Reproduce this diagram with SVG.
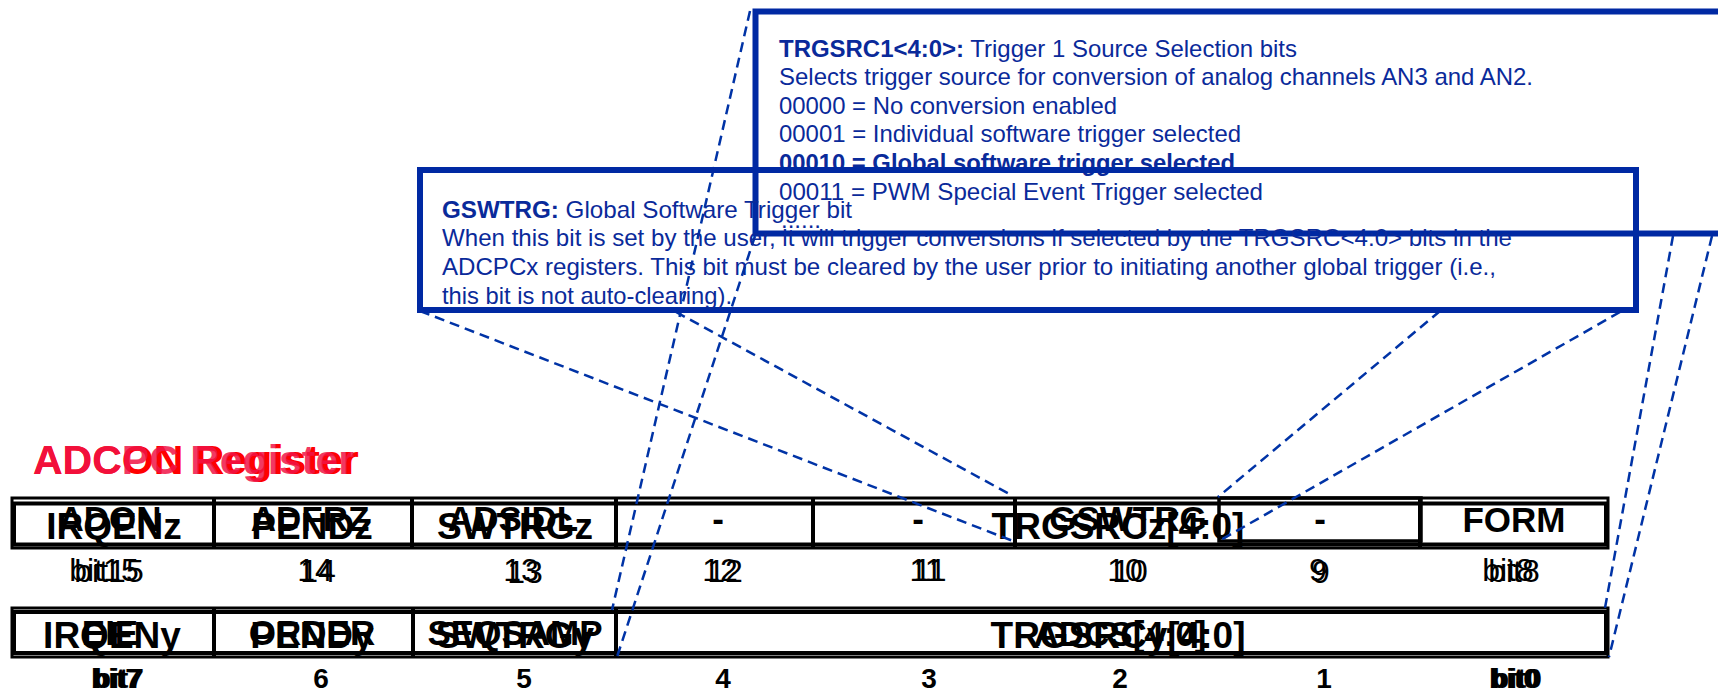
<svg xmlns="http://www.w3.org/2000/svg" width="1718" height="695" viewBox="0 0 1718 695">
<style>
.box{fill:none;stroke:#0029A3;stroke-width:6}
.dash{fill:none;stroke:#0033A6;stroke-width:2.5;stroke-dasharray:10 6}
.desc{font-family:"Liberation Sans",Arial,sans-serif;font-size:24px;fill:#0A2A9A}
.b{font-weight:bold}
.cellA{font-family:"Liberation Sans",Arial,sans-serif;font-size:35px;font-weight:bold;fill:#000;text-anchor:middle}
.cellB{font-family:"Liberation Sans",Arial,sans-serif;font-size:37px;font-weight:bold;fill:#000;text-anchor:middle}
.lab1{font-family:"Liberation Sans",Arial,sans-serif;font-size:32px;fill:#000;text-anchor:middle}
.lab2{font-family:"Liberation Sans",Arial,sans-serif;font-size:28px;font-weight:bold;fill:#000;text-anchor:middle}
.grid{fill:none;stroke:#000}
.title{font-family:"Liberation Sans",Arial,sans-serif;font-size:41px;font-weight:bold}
</style>
<rect width="1718" height="695" fill="#fff"/>

<g id="title">
<text class="title" x="33" y="474" fill="#FF0000">ADCON Register</text>
<text class="title" x="33" y="474" fill="#F01446" fill-opacity="0.85">ADCPC Register</text>
</g>

<g id="register-row1">
<rect class="grid" x="12" y="498" width="1596" height="50" stroke-width="3"/>
<rect class="grid" x="14" y="503.5" width="1592" height="41" stroke-width="4"/>
<g class="grid" stroke-width="4">
<line x1="214" y1="498" x2="214" y2="548"/>
<line x1="412" y1="498" x2="412" y2="548"/>
<line x1="616" y1="498" x2="616" y2="548"/>
<line x1="813" y1="498" x2="813" y2="548"/>
<line x1="1015" y1="498" x2="1015" y2="548"/>
<line x1="1420" y1="498" x2="1420" y2="548"/>
</g>
<rect class="grid" x="1219" y="498" width="202" height="43" stroke-width="3.5"/>
<text class="cellA" x="110" y="531">ADON</text>
<text class="cellA" x="310" y="531">ADFRZ</text>
<text class="cellA" x="513" y="531">ADSIDL</text>
<text class="cellA" x="718" y="531">-</text>
<text class="cellA" x="918" y="531">-</text>
<text class="cellA" x="1128" y="531">GSWTRG</text>
<text class="cellA" x="1320" y="531">-</text>
<text class="cellA" x="1514" y="532">FORM</text>
<text class="cellB" x="114" y="539">IRQENz</text>
<text class="cellB" x="312" y="539">PENDz</text>
<text class="cellB" x="515" y="539">SWTRGz</text>
<text class="cellB" x="1118" y="539">TRGSRCz[4:0]</text>
</g>

<g id="bits-row1">
<text class="lab1" x="104" y="581">bit15</text>
<text class="lab1" x="109" y="582">bit15</text>
<text class="lab1" x="315" y="581">14</text>
<text class="lab1" x="318" y="582">14</text>
<text class="lab1" x="521" y="581">13</text>
<text class="lab1" x="525" y="583">13</text>
<text class="lab1" x="720" y="581">12</text>
<text class="lab1" x="725" y="582">12</text>
<text class="lab1" x="926" y="581">11</text>
<text class="lab1" x="930" y="581">11</text>
<text class="lab1" x="1125" y="581">10</text>
<text class="lab1" x="1130" y="582">10</text>
<text class="lab1" x="1318" y="581">9</text>
<text class="lab1" x="1321" y="583">9</text>
<text class="lab1" x="1508" y="581">bit8</text>
<text class="lab1" x="1514" y="582">bit8</text>
</g>

<g id="register-row2">
<rect class="grid" x="12" y="608" width="1596" height="49" stroke-width="3"/>
<rect class="grid" x="14" y="612" width="1592" height="41" stroke-width="4"/>
<g class="grid" stroke-width="4">
<line x1="214" y1="608" x2="214" y2="657"/>
<line x1="413" y1="608" x2="413" y2="657"/>
<line x1="616" y1="608" x2="616" y2="657"/>
</g>
<text class="cellA" x="110" y="645">EIE</text>
<text class="cellA" x="312" y="645">ORDER</text>
<text class="cellA" x="515" y="645">SEQSAMP</text>
<text class="cellA" x="1120" y="646">ADCS[4:0]</text>
<text class="cellB" x="112" y="648">IRQENy</text>
<text class="cellB" x="312" y="648">PENDy</text>
<text class="cellB" x="515" y="648">SWTRGy</text>
<text class="cellB" x="1118" y="648">TRGSRCy[4:0]</text>
</g>

<g id="bits-row2">
<text class="lab2" x="116" y="688">bit7</text>
<text class="lab2" x="119" y="688">bit7</text>
<text class="lab2" x="321" y="688">6</text>
<text class="lab2" x="524" y="688">5</text>
<text class="lab2" x="723" y="688">4</text>
<text class="lab2" x="929" y="688">3</text>
<text class="lab2" x="1120" y="688">2</text>
<text class="lab2" x="1324" y="688">1</text>
<text class="lab2" x="1514" y="688">bit0</text>
<text class="lab2" x="1517" y="688">bit0</text>
</g>

<g id="connectors">
<line class="dash" x1="750" y1="11" x2="612" y2="610"/>
<line class="dash" x1="755" y1="236" x2="617" y2="657"/>
<line class="dash" x1="1673" y1="236" x2="1605" y2="608"/>
<line class="dash" x1="1712" y1="236" x2="1609" y2="657"/>
<line class="dash" x1="420" y1="311" x2="1013" y2="541"/>
<line class="dash" x1="676" y1="312" x2="1013" y2="496"/>
<line class="dash" x1="1440" y1="311" x2="1218" y2="497"/>
<line class="dash" x1="1620" y1="312" x2="1219" y2="541"/>
</g>

<g id="trgsrc1-note">
<rect class="box" x="755.5" y="11.5" width="1459.5" height="222"/>
<text class="desc" x="779" y="57" textLength="518" lengthAdjust="spacingAndGlyphs"><tspan class="b">TRGSRC1&lt;4:0&gt;:</tspan> Trigger 1 Source Selection bits</text>
<text class="desc" x="779" y="85" textLength="754" lengthAdjust="spacingAndGlyphs">Selects trigger source for conversion of analog channels AN3 and AN2.</text>
<text class="desc" x="779" y="114" textLength="338" lengthAdjust="spacingAndGlyphs">00000 = No conversion enabled</text>
<text class="desc" x="779" y="142" textLength="462" lengthAdjust="spacingAndGlyphs">00001 = Individual software trigger selected</text>
<text class="desc b" x="779" y="171" textLength="456" lengthAdjust="spacingAndGlyphs">00010 = Global software trigger selected</text>
<text class="desc" x="779" y="200" textLength="484" lengthAdjust="spacingAndGlyphs">00011 = PWM Special Event Trigger selected</text>
<text class="desc" x="781" y="228">......</text>
</g>

<g id="gswtrg-note">
<rect class="box" x="420" y="170" width="1216" height="140"/>
<text class="desc" x="442" y="218" textLength="410" lengthAdjust="spacingAndGlyphs"><tspan class="b">GSWTRG:</tspan> Global Software Trigger bit</text>
<text class="desc" x="442" y="246" textLength="1070" lengthAdjust="spacingAndGlyphs">When this bit is set by the user, it will trigger conversions if selected by the TRGSRC&lt;4:0&gt; bits in the</text>
<text class="desc" x="442" y="275" textLength="1054" lengthAdjust="spacingAndGlyphs">ADCPCx registers. This bit must be cleared by the user prior to initiating another global trigger (i.e.,</text>
<text class="desc" x="442" y="304" textLength="290" lengthAdjust="spacingAndGlyphs">this bit is not auto-clearing).</text>
</g>
</svg>
